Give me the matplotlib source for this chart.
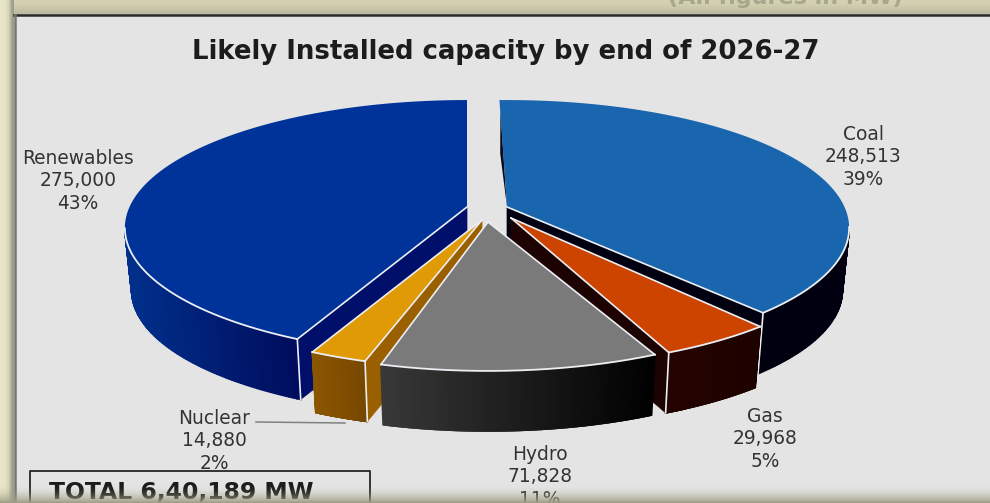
import numpy as np
import matplotlib
matplotlib.use('Agg')
import matplotlib.pyplot as plt
from matplotlib.colors import to_rgb

sources = ['Coal', 'Gas', 'Hydro', 'Nuclear', 'Renewables']
capacity = [248513, 29968, 71828, 14880, 275000]

top_colors = ['#1a66ae', '#cc4400', '#7a7a7a', '#e09a05', '#00339a']
wall_left = ['#00000f', '#240300', '#383838', '#8c5600', '#00308c']
wall_right = ['#000010', '#1e0200', '#000000', '#754700', '#000c5c']
cut_colors = ['#000010', '#1c0200', None, '#9a6000', '#00106a']
# which radial face shows: 1 = end of the wedge, 0 = start
cut_side = [1, 1, None, 0, 0]

# tip of each wedge after exploding, in pixels
tips = [(507, 207), (511, 218), (488, 222), (482, 220), (467, 207)]
turn = [-1.5, 0, -1.5, 0, 0]

label_pos = [(863, 134), (765, 416), (540, 454), (214, 418), (78, 158)]
draw_order = [4, 0, 3, 1, 2]

SX, SY, K = 337.5, 124.5, 0.164
DEPTH = 63
SHRINK = 0.98
LINE = '#eceef4'


def project(t, tip):
    # circle seen in perspective, t in degrees clockwise from the far side
    r = np.radians(t)
    w = 1 + K * np.cos(r)
    return tip[0] + SX * np.sin(r) / w, tip[1] - SY * np.cos(r) / w


def bottom(x, y, tip):
    return tip[0] + (x - tip[0]) * SHRINK, tip[1] + (y - tip[1]) * SHRINK + DEPTH


fig = plt.figure(figsize=(9.9, 5.03), dpi=100)
ax = fig.add_axes([0, 0, 1, 1])
ax.axis('off')

# slide around the panel
fig.patch.set_facecolor('#e7e5c8')
ax.imshow(np.array([[[0.83, 0.82, 0.70]], [[0.80, 0.79, 0.67]], [[0.74, 0.73, 0.63]]]),
          extent=(0, 990, 15, 0), aspect='auto', interpolation='bilinear', zorder=0)
ax.imshow(np.array([[[0.91, 0.90, 0.79], [0.90, 0.89, 0.77], [0.84, 0.83, 0.72], [0.62, 0.62, 0.56]]]),
          extent=(0, 14, 503, 0), aspect='auto', interpolation='bilinear', zorder=0.5)
ax.fill_between([14, 990], 15, 503, color='#e4e4e4', lw=0, zorder=1)
ax.plot([14, 990], [15, 15], color='#2b2b2b', lw=1.8, zorder=2)
ax.plot([14.5, 14.5], [15, 503], color='#77776f', lw=1.8, zorder=2)

ax.text(785, -2, '(All figures in MW)', ha='center', va='center', fontsize=16, fontweight='bold',
        color='#a8a68c', zorder=1)

total = sum(capacity)
edges = np.cumsum([0] + capacity) / total * 360

for i in draw_order:
    tip = tips[i]
    t0, t1 = edges[i] + turn[i], edges[i + 1] + turn[i]
    ts = np.linspace(t0, t1, 240)
    xs, ys = project(ts, tip)
    z = 10 + draw_order.index(i)

    # outer wall, only the part facing the viewer
    vis = ts[(ts >= 99) & (ts <= 261)]
    if len(vis) > 1:
        vx, vy = project(vis, tip)
        bx, by = bottom(vx, vy, tip)
        c0, c1 = np.array(to_rgb(wall_left[i])), np.array(to_rgb(wall_right[i]))
        x_lo, x_hi = vx.min(), vx.max()
        for j in range(len(vis) - 1):
            f = ((vx[j] + vx[j + 1]) / 2 - x_lo) / (x_hi - x_lo)
            col = c0 + (c1 - c0) * f
            ax.fill([vx[j], vx[j + 1], bx[j + 1], bx[j]], [vy[j], vy[j + 1], by[j + 1], by[j]],
                    color=col, lw=1.2, zorder=z)

    # radial cut face
    if cut_side[i] is not None:
        ex, ey = (xs[-1], ys[-1]) if cut_side[i] == 1 else (xs[0], ys[0])
        ebx, eby = bottom(ex, ey, tip)
        ax.fill([tip[0], ex, ebx, tip[0]], [tip[1], ey, eby, tip[1] + DEPTH],
                color=cut_colors[i], lw=0.5, zorder=z + 0.1)
        ax.plot([ex, ebx], [ey, eby], color=LINE, lw=1.2, zorder=z + 0.4)

    # top face
    ax.fill(np.r_[tip[0], xs], np.r_[tip[1], ys], color=top_colors[i], lw=0, zorder=z + 0.2)

    # light edges on the top face
    if i != 0:
        ax.plot([tip[0], xs[0]], [tip[1], ys[0]], color=LINE, lw=1.2, zorder=z + 0.3)
    if i != 4:
        ax.plot([tip[0], xs[-1]], [tip[1], ys[-1]], color=LINE, lw=1.2, zorder=z + 0.3)
    if len(vis) > 1:
        ax.plot(vx, vy, color=LINE, lw=1.3, zorder=z + 0.3)

# thin dark sliver along the far edge of the coal wedge
cx, cy = project(turn[0], tips[0])
mid_x = cx + (tips[0][0] - cx) * 0.5
mid_y = cy + (tips[0][1] - cy) * 0.5
ax.fill([tips[0][0], cx + 1, mid_x - 3], [tips[0][1], cy + 10, mid_y],
        color='#0a0a18', lw=0, zorder=9)

for name, val, (lx, ly) in zip(sources, capacity, label_pos):
    for k, line in enumerate([name, f'{val:,}', f'{round(val / total * 100)}%']):
        ax.text(lx, ly + k * 22.8, line, ha='center', va='center', fontsize=13.4, color='#333333', zorder=30)

# leader for the nuclear label
ax.plot([256, 345], [422, 423], color='#808080', lw=1.1, zorder=29)

ax.text(506, 52, 'Likely Installed capacity by end of 2026-27', ha='center', va='center',
        fontsize=18.7, fontweight='bold', color='#1c1c1c', zorder=30)

# total box
ax.plot([30, 30, 370, 370], [510, 471, 471, 510], color='#333333', lw=1.4, zorder=30)
ax.text(49, 492, 'TOTAL 6,40,189 MW', ha='left', va='center', fontsize=16.9, fontweight='bold',
        color='#1c1c1c', zorder=30)

# soft shadow along the lower edge
fade = np.zeros((32, 1, 4))
fade[..., :3] = (0.62, 0.62, 0.53)
fade[..., 3] = np.linspace(0, 1, 32)[:, None] ** 2
ax.imshow(fade, extent=(0, 990, 503, 484), aspect='auto', interpolation='bilinear', zorder=40)

ax.set_xlim(0, 990)
ax.set_ylim(503, 0)

fig.savefig('out.png', dpi=100, facecolor=fig.get_facecolor())
